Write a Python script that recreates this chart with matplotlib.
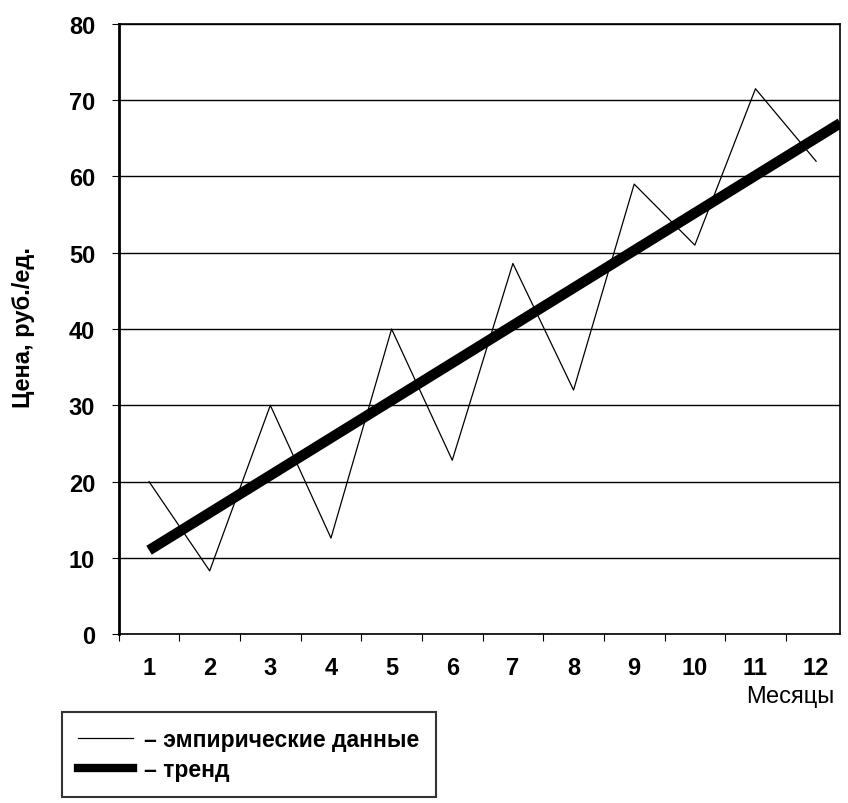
import matplotlib.pyplot as plt
from matplotlib.lines import Line2D

plt.rcParams['font.family'] = ['Liberation Sans', 'DejaVu Sans']

# месяцы и цены
months = [1, 2, 3, 4, 5, 6, 7, 8, 9, 10, 11, 12]
prices = [20, 8.3, 30, 12.6, 40, 22.8, 48.6, 32, 59, 51, 71.5, 62]

# линия тренда (начало и конец)
trend_x = [1, 12.4]
trend_y = [11, 67]

fig = plt.figure(figsize=(8.48, 8.04), dpi=100)
ax = fig.add_axes([0.14, 0.21, 0.851, 0.759])

ax.plot(months, prices, color='black', lw=0.9)
ax.plot(trend_x, trend_y, color='black', lw=7.5, solid_capstyle='butt')

ax.set_xlim(0.5, 12.4)
ax.set_ylim(0, 80)
ax.set_yticks(range(0, 81, 10))
ax.yaxis.grid(True, color='black', lw=1)
ax.set_axisbelow(True)

# подписи по центру категорий, засечки на границах
ax.set_xticks([m - 0.5 for m in months])
ax.set_xticklabels([])
ax.set_xticks(months, minor=True)
ax.set_xticklabels([str(m) for m in months], minor=True)
ax.tick_params(axis='x', which='minor', length=0, pad=16, labelsize=17)
ax.tick_params(axis='x', which='major', length=5, direction='out')
ax.tick_params(axis='y', length=5, direction='out', pad=12, labelsize=17)
for lbl in ax.get_xticklabels(minor=True) + ax.get_yticklabels():
    lbl.set_fontweight('bold')

for sp in ax.spines.values():
    sp.set_linewidth(1.2)
ax.spines['left'].set_linewidth(2)

fig.text(0.028, 0.593, 'Цена, руб./ед.', rotation=90, ha='center', va='center',
         fontsize=17, fontweight='bold')
fig.text(0.880, 0.133, 'Месяцы', ha='left', va='center', fontsize=17)

handles = [Line2D([], [], color='black', lw=0.9),
           Line2D([], [], color='black', lw=6)]
labels = ['– эмпирические данные', '– тренд']
leg = fig.legend(handles, labels, loc='upper left', bbox_to_anchor=(0.073, 0.113),
                 frameon=True, fancybox=False, edgecolor='black',
                 prop={'size': 16.5, 'weight': 'bold'},
                 handlelength=2.4, borderpad=0.7, labelspacing=0.3,
                 handletextpad=0.5, borderaxespad=0)
leg.get_frame().set_linewidth(1.5)

fig.savefig('out.png', dpi=100)
